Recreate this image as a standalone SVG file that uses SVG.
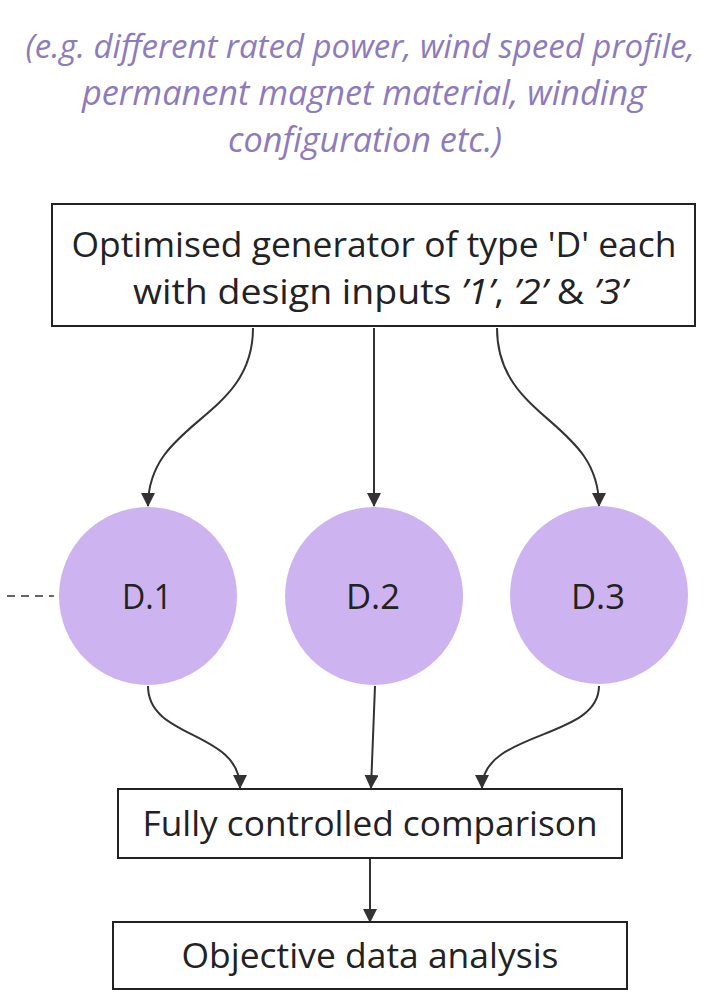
<svg xmlns="http://www.w3.org/2000/svg" width="716" height="992" viewBox="0 0 716 992">
  <style>
    .note { font-family: "Open Sans", "Liberation Sans", sans-serif; font-style: italic; font-size: 34px; fill: #8c7bbd; text-anchor: middle; }
    .label { font-family: "Open Sans", "Liberation Sans", sans-serif; font-size: 35.5px; fill: #222; text-anchor: middle; }
    .box { fill: #fff; stroke: #222; stroke-width: 2; }
    .circle { fill: #cdb4f0; }
    .edge { fill: none; stroke: #333; stroke-width: 2; }
    .it { font-style: italic; }
  </style>
  <defs>
    <marker id="arrow" viewBox="0 0 14 14" refX="13" refY="7" markerWidth="14" markerHeight="14" markerUnits="userSpaceOnUse" orient="auto">
      <path d="M0,0 L14,7 L0,14 Z" fill="#333"/>
    </marker>
  </defs>
  <rect width="716" height="992" fill="#fff"/>

  <g id="note">
    <text class="note" x="360" y="58" style="font-size:33px">(e.g. different rated power, wind speed profile,</text>
    <text class="note" x="364" y="105" textLength="564" lengthAdjust="spacingAndGlyphs">permanent magnet material, winding</text>
    <text class="note" x="365" y="152" textLength="274" lengthAdjust="spacingAndGlyphs">configuration etc.)</text>
  </g>

  <g id="connectors">
    <path class="edge" d="M253,328 C253,420 148,420 148,506" marker-end="url(#arrow)"/>
    <path class="edge" d="M374,328 L374,506" marker-end="url(#arrow)"/>
    <path class="edge" d="M497,328 C497,420 599,420 599,506" marker-end="url(#arrow)"/>
    <path class="edge" d="M148,686 C148,740 240,730 240,788" marker-end="url(#arrow)"/>
    <path class="edge" d="M375,686 L371,788" marker-end="url(#arrow)"/>
    <path class="edge" d="M599,686 C599,740 482,730 482,788" marker-end="url(#arrow)"/>
    <path class="edge" d="M370,859 L370,922" marker-end="url(#arrow)"/>
    <path d="M7,596 L54,596" fill="none" stroke="#333" stroke-width="1.5" stroke-dasharray="8,6"/>
  </g>

  <g id="generator">
    <rect class="box" x="52" y="204" width="643" height="122"/>
    <text class="label" x="374" y="257" textLength="605" lengthAdjust="spacingAndGlyphs">Optimised generator of type 'D' each</text>
    <text class="label" x="380" y="304" textLength="494" lengthAdjust="spacingAndGlyphs">with design inputs <tspan class="it">’1’</tspan>, <tspan class="it">’2’</tspan> &amp; <tspan class="it">’3’</tspan></text>
  </g>

  <g id="d1">
    <circle class="circle" cx="148" cy="596" r="89"/>
    <text class="label" x="147" y="609" textLength="50" lengthAdjust="spacingAndGlyphs">D.1</text>
  </g>
  <g id="d2">
    <circle class="circle" cx="374" cy="596" r="89"/>
    <text class="label" x="373" y="609" textLength="54" lengthAdjust="spacingAndGlyphs">D.2</text>
  </g>
  <g id="d3">
    <circle class="circle" cx="599" cy="595" r="89"/>
    <text class="label" x="598" y="609" textLength="54" lengthAdjust="spacingAndGlyphs">D.3</text>
  </g>

  <g id="comparison">
    <rect class="box" x="118" y="789" width="504" height="69"/>
    <text class="label" x="370" y="836" textLength="455" lengthAdjust="spacingAndGlyphs">Fully controlled comparison</text>
  </g>

  <g id="analysis">
    <rect class="box" x="113" y="922" width="514" height="67"/>
    <text class="label" x="370" y="968" textLength="377" lengthAdjust="spacingAndGlyphs">Objective data analysis</text>
  </g>
</svg>
